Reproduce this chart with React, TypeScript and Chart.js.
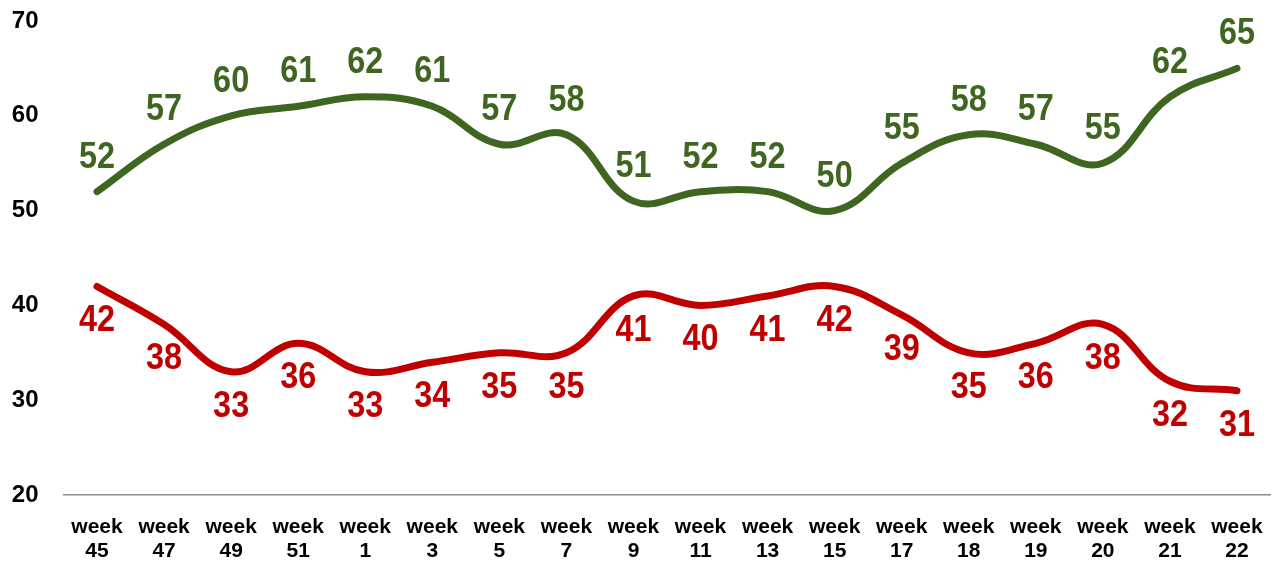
import React, { useEffect, useRef } from "react";
import { Chart, registerables } from "chart.js";

Chart.register(...registerables);

const categories: string[][] = [
  ["week", "45"], ["week", "47"], ["week", "49"], ["week", "51"], ["week", "1"], ["week", "3"],
  ["week", "5"], ["week", "7"], ["week", "9"], ["week", "11"], ["week", "13"], ["week", "15"],
  ["week", "17"], ["week", "18"], ["week", "19"], ["week", "20"], ["week", "21"], ["week", "22"],
];
const greenValues = [52, 57, 60, 61, 62, 61, 57, 58, 51, 52, 52, 50, 55, 58, 57, 55, 62, 65];
const redValues = [42, 38, 33, 36, 33, 34, 35, 35, 41, 40, 41, 42, 39, 35, 36, 38, 32, 31];
const yMin = 20;
const yMax = 70;
const yStep = 10;

const GREEN = "#3E6620";
const RED = "#C00000";
const FONT = '"Liberation Sans", Arial, sans-serif';

const labelPlugin = {
  id: "valueLabels",
  afterDatasetsDraw(chart: any) {
    const ctx = chart.ctx;
    chart.data.datasets.forEach((ds: any, i: number) => {
      const meta = chart.getDatasetMeta(i);
      const above = ds.labelPos === "above";
      ctx.save();
      ctx.fillStyle = ds.borderColor;
      ctx.font = `bold 36px ${FONT}`;
      ctx.textAlign = "center";
      ctx.textBaseline = "middle";
      meta.data.forEach((pt: any, j: number) => {
        const v = ds.data[j];
        const y = above ? pt.y - 34 : pt.y + 35;
        ctx.save();
        ctx.translate(pt.x, y);
        ctx.scale(0.9, 1);
        ctx.fillText(String(v), 0, 0);
        ctx.restore();
      });
      ctx.restore();
    });
  },
};

export default function App() {
  const ref = useRef<HTMLCanvasElement | null>(null);
  useEffect(() => {
    document.body.style.margin = "0";
    const canvas = ref.current!;
    const chart = new Chart(canvas, {
      type: "line",
      data: {
        labels: categories,
        datasets: [
          {
            data: greenValues,
            borderColor: GREEN,
            backgroundColor: GREEN,
            borderWidth: 7,
            pointRadius: 0,
            tension: 0.4,
            borderCapStyle: "round",
            borderJoinStyle: "round",
            labelPos: "above",
          } as any,
          {
            data: redValues,
            borderColor: RED,
            backgroundColor: RED,
            borderWidth: 7,
            pointRadius: 0,
            tension: 0.4,
            borderCapStyle: "round",
            borderJoinStyle: "round",
            labelPos: "below",
          } as any,
        ],
      },
      options: {
        responsive: false,
        animation: false,
        layout: { padding: { top: 21, right: 1.5, left: 0, bottom: 0 } },
        plugins: { legend: { display: false }, tooltip: { enabled: false } },
        scales: {
          x: {
            offset: true,
            grid: { display: false, drawTicks: false },
            border: { display: true, color: "#8a8a8a", width: 1.5 },
            ticks: {
              color: "#000",
              font: { family: FONT, size: 21, weight: "bold", lineHeight: 1.15 },
              padding: 20,
              maxRotation: 0,
              autoSkip: false,
            },
            afterFit: (s: any) => {
              s.height = 71;
              s.paddingLeft = 0;
              s.paddingRight = 0;
            },
          },
          y: {
            min: yMin,
            max: yMax,
            grid: { display: false, drawTicks: false },
            border: { display: false },
            ticks: {
              stepSize: yStep,
              color: "#000",
              font: { family: FONT, size: 24, weight: "bold" },
              padding: 25,
            },
            afterFit: (s: any) => {
              s.width = 63.5;
              s.paddingTop = 0;
              s.paddingBottom = 0;
            },
          },
        },
      } as any,
      plugins: [labelPlugin],
    });
    return () => chart.destroy();
  }, []);
  return (
    <div style={{ position: "absolute", left: 0, top: 0, width: 1272, height: 566, background: "#fff" }}>
      <canvas ref={ref} width={1272} height={566} />
    </div>
  );
}
